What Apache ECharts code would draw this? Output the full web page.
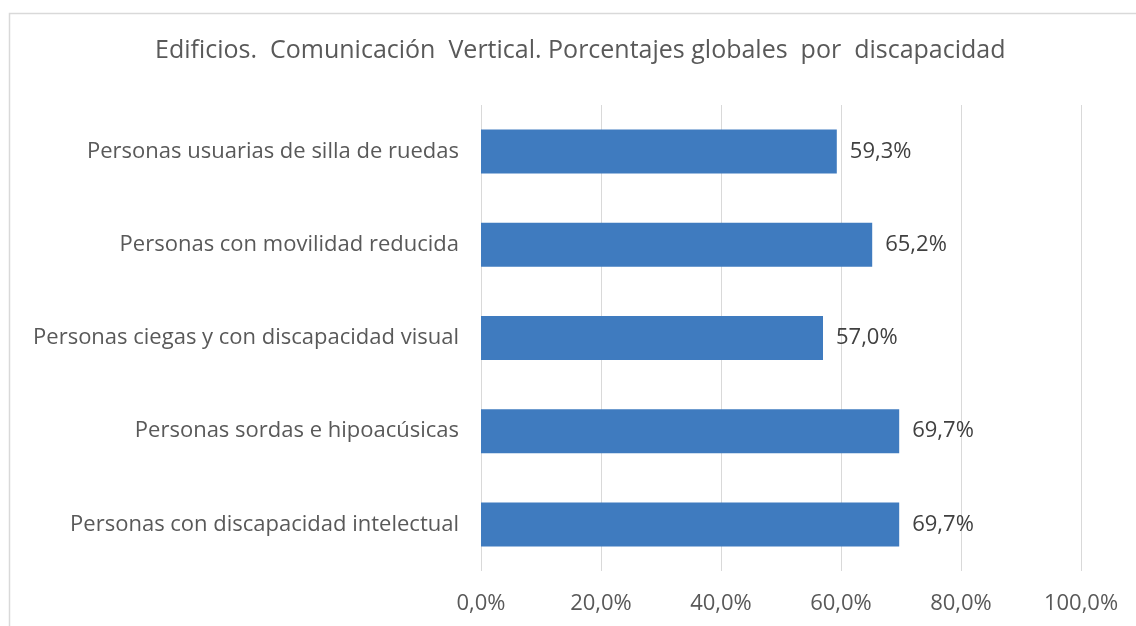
<!DOCTYPE html>
<html>
<head>
<meta charset="utf-8">
<script src="https://cdn.jsdelivr.net/npm/echarts@6/dist/echarts.min.js"></script>
<style>
  html, body { margin: 0; padding: 0; background: #fff; }
  #chart { width: 1136px; height: 626px; }
</style>
</head>
<body>
<div id="chart"></div>
<script>
// Categories from top to bottom
const categories = [
  'Personas usuarias de silla de ruedas',
  'Personas con movilidad reducida',
  'Personas ciegas y con discapacidad visual',
  'Personas sordas e hipoacúsicas',
  'Personas con discapacidad intelectual'
];
// Global percentage per disability group
const values = [59.3, 65.2, 57.0, 69.7, 69.7];
// X axis tick values
const ticks = [0, 20, 40, 60, 80, 100];

const fontFamily = '"Open Sans", "Noto Sans", sans-serif';
const fmt = v => v.toFixed(1).replace('.', ',') + '%';

const chart = echarts.init(document.getElementById('chart'));
chart.setOption({
  animation: false,
  backgroundColor: '#ffffff',
  graphic: [{
    type: 'rect',
    shape: { x: 9.5, y: 13.5, width: 1140, height: 640 },
    style: { fill: 'none', stroke: '#d9d9d9', lineWidth: 1.5 },
    silent: true
  }],
  title: {
    text: 'Edificios.  Comunicación  Vertical. Porcentajes globales  por  discapacidad',
    left: 150,
    top: 33,
    textStyle: { fontFamily, fontSize: 25, fontWeight: 'normal', color: '#595959' }
  },
  grid: { left: 481, right: 55, top: 105, bottom: 55, containLabel: false },
  xAxis: {
    type: 'value',
    min: ticks[0],
    max: ticks[ticks.length - 1],
    interval: 20,
    axisLine: { show: false },
    axisTick: { show: false },
    splitLine: { show: true, lineStyle: { color: '#d9d9d9', width: 1 } },
    axisLabel: {
      formatter: v => fmt(v),
      fontFamily, fontSize: 22, color: '#595959', margin: 22
    }
  },
  yAxis: {
    type: 'category',
    data: categories,
    inverse: true,
    axisLine: { show: false },
    axisTick: { show: false },
    axisLabel: { fontFamily, fontSize: 22, color: '#595959', margin: 22 }
  },
  series: [{
    type: 'bar',
    data: values,
    barWidth: 44,
    itemStyle: { color: '#3f7bbf' },
    label: {
      show: true,
      position: 'right',
      distance: 13,
      formatter: p => fmt(p.value),
      fontFamily, fontSize: 22, color: '#404040'
    }
  }]
});
</script>
</body>
</html>
